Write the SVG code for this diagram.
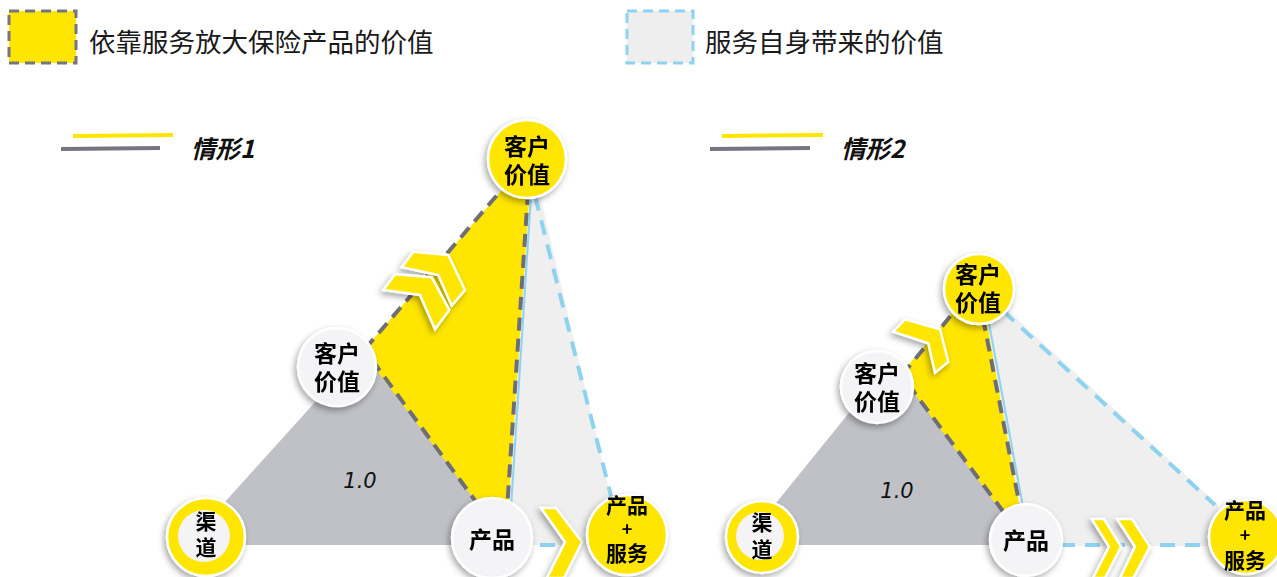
<svg xmlns="http://www.w3.org/2000/svg" width="1277" height="577" viewBox="0 0 1277 577">
<defs>
<style>
.lg{font-family:"Noto Sans CJK SC","Noto Sans",sans-serif;font-size:26.5px;fill:#1a1a1a}
.tt{font-family:"Noto Sans CJK SC","Noto Sans",sans-serif;font-size:24.5px;font-weight:bold;font-style:italic;fill:#111}
.nt{font-family:"Noto Sans CJK SC","Noto Sans",sans-serif;font-size:23px;font-weight:bold;fill:#000;text-anchor:middle}
.sm{font-size:21px}
.pl{font-size:18px}
.num{font-family:"DejaVu Sans",sans-serif;font-size:21px;font-style:italic;fill:#111;text-anchor:middle}
.gd{stroke:#6f6e78;stroke-width:4;stroke-dasharray:13 8;fill:none}
.bd{stroke:#8dd3f0;stroke-width:4;stroke-dasharray:15 10;fill:none}
.bt{stroke:#8dd3f0;stroke-width:2;fill:none}
.yel{fill:#ffe600}
.gry{fill:#c0c1c7}
.lgr{fill:#efefef}
.cw{fill:#f4f4f7;stroke:#fff;stroke-width:2.5}
.cy{fill:#ffe600;stroke:#fff;stroke-width:2.5}
.chev{fill:#ffe600;stroke:#fff;stroke-width:2.5;stroke-linejoin:miter}
</style>
<filter id="sh" x="-30%" y="-30%" width="160%" height="160%">
<feDropShadow dx="-2" dy="3" stdDeviation="3" flood-color="#000" flood-opacity="0.35"/>
</filter>
</defs>

<g id="legend">
<rect x="9" y="11" width="67" height="52" fill="#ffe600" stroke="#75747f" stroke-width="3" stroke-dasharray="10 6"/>
<text class="lg" x="89" y="52">依靠服务放大保险产品的价值</text>
<rect x="627" y="11" width="66" height="52" fill="#eeeeee" stroke="#8dd3f0" stroke-width="3" stroke-dasharray="10 6"/>
<text class="lg" x="705" y="52">服务自身带来的价值</text>
</g>

<g id="title1">
<line x1="73" y1="136" x2="173" y2="135" stroke="#ffe600" stroke-width="4"/>
<line x1="61" y1="149" x2="160" y2="148" stroke="#75747f" stroke-width="4"/>
<text class="tt" x="191" y="158">情形1</text>
</g>
<g id="title2">
<line x1="722" y1="136" x2="823" y2="135" stroke="#ffe600" stroke-width="4"/>
<line x1="710" y1="149" x2="810" y2="148" stroke="#75747f" stroke-width="4"/>
<text class="tt" x="841" y="158">情形2</text>
</g>

<g id="areas1">
<polygon class="lgr" points="528,190 540,195 622,545 505,545 507,510"/>
<polygon class="gry" points="364,348 186,545 508,545"/>
<polygon class="yel" points="362,352 510,181 530,185 508,512 484,512 365,355"/>
</g>
<g id="areas2">
<polygon class="lgr" points="985,312 1002,305 1218,505 1218,546 1025,546 1021,515"/>
<polygon class="gry" points="891,361 742,545 1028,545"/>
<polygon class="yel" points="900,375 958,306 985,312 1021,515 1004,515 905,381"/>
</g>

<g id="connectors">
<line class="bt" x1="531" y1="195" x2="511" y2="508"/>
<line class="gd" x1="365" y1="349" x2="510" y2="180"/>
<line class="gd" x1="528" y1="192" x2="507" y2="510"/>
<line class="gd" x1="372" y1="360" x2="482" y2="510"/>
<line class="bd" x1="535" y1="196" x2="612" y2="500"/>
<line class="bd" x1="540" y1="545" x2="605" y2="545"/>

<line class="bt" x1="988" y1="318" x2="1024" y2="512"/>
<line class="gd" x1="902" y1="375" x2="958" y2="307"/>
<line class="gd" x1="983" y1="318" x2="1021" y2="512"/>
<line class="gd" x1="908" y1="384" x2="1008" y2="518"/>
<line class="bd" x1="1003" y1="311" x2="1215" y2="505"/>
<line class="bd" x1="1060" y1="545" x2="1215" y2="545"/>
</g>

<g id="chevrons" filter="url(#sh)">
<polygon class="chev" points="401.7,267.3 413.3,251.7 448.3,255 465,290 451.7,305.7 438.3,275"/>
<polygon class="chev" points="383.3,290 395,274.3 431.7,277.3 449.3,310 435,329.3 420,295"/>
<polygon class="chev" points="541,508 556,508 582,542 564,578 547,578 565,542"/>
<polygon class="chev" points="893.3,331.7 905,319.3 940,329.3 948.3,361.7 935,372.7 928.3,343.3"/>
<polygon class="chev" points="1091.7,519 1104,519 1121,546.7 1105,578 1093,578 1109,546.7"/>
<polygon class="chev" points="1117,519 1132,519 1150,546.7 1133.3,578 1120,578 1135,546.7"/>
</g>

<g id="n1-top" filter="url(#sh)"><circle class="cy" cx="527" cy="159" r="39"/><text class="nt" x="527" y="155">客户</text><text class="nt" x="527" y="183">价值</text></g>
<g id="n1-mid" filter="url(#sh)"><circle class="cw" cx="337" cy="367" r="39"/><text class="nt" x="337" y="362">客户</text><text class="nt" x="337" y="390">价值</text></g>
<g id="n1-channel" filter="url(#sh)"><circle class="cy" cx="206" cy="537" r="39"/><circle fill="#f4f4f7" cx="204" cy="536" r="26"/><text class="nt sm" x="206" y="529">渠</text><text class="nt sm" x="206" y="555">道</text></g>
<g id="n1-product" filter="url(#sh)"><circle class="cw" cx="492" cy="538" r="40"/><text class="nt" x="492" y="548">产品</text></g>
<g id="n1-ps" filter="url(#sh)"><circle class="cy" cx="627" cy="535" r="40"/><text class="nt sm" x="627" y="513">产品</text><text class="nt pl" x="627" y="536">+</text><text class="nt sm" x="627" y="561">服务</text></g>

<g id="n2-top" filter="url(#sh)"><circle class="cy" cx="979" cy="289" r="35"/><text class="nt" x="978" y="283">客户</text><text class="nt" x="978" y="311">价值</text></g>
<g id="n2-mid" filter="url(#sh)"><circle class="cw" cx="877" cy="387" r="36"/><text class="nt" x="877" y="382">客户</text><text class="nt" x="877" y="410">价值</text></g>
<g id="n2-channel" filter="url(#sh)"><circle class="cy" cx="762" cy="537" r="36"/><circle fill="#f4f4f7" cx="760" cy="536" r="24"/><text class="nt sm" x="762" y="530">渠</text><text class="nt sm" x="762" y="557">道</text></g>
<g id="n2-product" filter="url(#sh)"><circle class="cw" cx="1026" cy="540" r="36"/><text class="nt" x="1026" y="549">产品</text></g>
<g id="n2-ps" filter="url(#sh)"><circle class="cy" cx="1246" cy="537" r="37"/><text class="nt sm" x="1245" y="518">产品</text><text class="nt pl" x="1245" y="542">+</text><text class="nt sm" x="1245" y="568">服务</text></g>

<g id="labels">
<text class="num" x="360" y="488">1.0</text>
<text class="num" x="897" y="498">1.0</text>
</g>
</svg>
